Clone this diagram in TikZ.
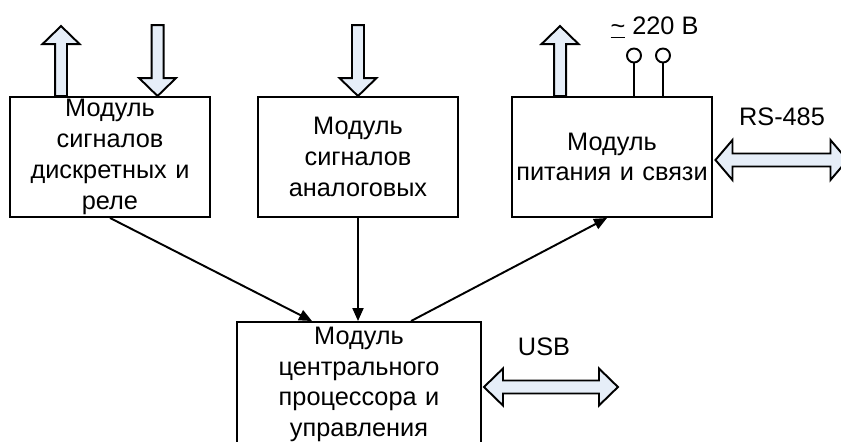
\documentclass[tikz,border=0pt]{standalone}
\usepackage{fontspec}
\setmainfont{Liberation Sans}
\usepackage{xcolor}
\usetikzlibrary{arrows.meta,positioning}
\definecolor{arrowblue}{HTML}{E6EEF8}

\tikzset{
  blockarrow/.style={draw, line width=1.1pt, fill=arrowblue},
  outarrow/.pic={\draw[blockarrow] (-0.12,0) -- (-0.12,1.04) -- (-0.37,1.04) -- (0,1.4) -- (0.37,1.04) -- (0.12,1.04) -- (0.12,0) -- cycle;},
  inarrow/.pic={\draw[blockarrow] (0,0) -- (-0.37,0.36) -- (-0.12,0.36) -- (-0.12,1.42) -- (0.12,1.42) -- (0.12,0.36) -- (0.37,0.36) -- cycle;}
}

\begin{document}
\begin{tikzpicture}[module/.style={draw, line width=1.1pt, minimum width=4cm, minimum height=2.4cm, text width=3.9cm, align=center, inner sep=0pt, font=\fontsize{14.4}{17.5}\selectfont},
  link/.style={line width=1.1pt, -{Triangle[length=0.26cm, width=0.22cm]}},
  terminal/.style={circle, draw, line width=1.1pt, minimum size=0.28cm, inner sep=0pt},
  lbl/.style={font=\fontsize{14.4}{17}\selectfont}]

\useasboundingbox (0,0) rectangle (16.82,8.82);
\clip (0,0) rectangle (16.82,8.82);

\node[module] (discr) at (2.2,5.68) {Модуль\\ сигналов\\ дискретных и\\ реле};
\node[module] (analog) at (7.16,5.68) {Модуль\\ сигналов\\ аналоговых};
\node[module] (power) at (12.24,5.68) {Модуль\\ питания и связи};
\node[module, minimum width=4.88cm, minimum height=2.5cm] (cpu) at (7.18,1.13) {Модуль\\ центрального\\ процессора и\\ управления};

\pic at ([xshift=1.04cm]discr.north west) {outarrow};
\pic at ([xshift=2.97cm]discr.north west) {inarrow};
\pic at (analog.north) {inarrow};
\pic at ([xshift=0.98cm]power.north west) {outarrow};

\node[terminal] (ac1) at (12.68,7.71) {};
\node[terminal] (ac2) at (13.26,7.71) {};
\path[draw] [line width=1.1pt] (ac1) -- (ac1 |- power.north);
\path[draw] [line width=1.1pt] (ac2) -- (ac2 |- power.north);
\node[lbl] (volt) at (13.09,8.27) {\underline{\textasciitilde} 220 В};

\node[lbl] (rs) at (15.64,6.48) {RS-485};
\draw[blockarrow] ([xshift=0.05cm,yshift=-0.06cm]power.east) -- ++(0.34,0.4) -- ++(0,-0.27) -- ++(1.96,0) -- ++(0,0.27) -- ++(0.34,-0.4) -- ++(-0.34,-0.4) -- ++(0,0.27) -- ++(-1.96,0) -- ++(0,-0.27) -- cycle;

\node[lbl] (usb) at (10.88,1.88) {USB};
\draw[blockarrow] ([xshift=0.04cm,yshift=-0.05cm]cpu.east) -- ++(0.38,0.37) -- ++(0,-0.24) -- ++(1.92,0) -- ++(0,0.24) -- ++(0.38,-0.37) -- ++(-0.38,-0.37) -- ++(0,0.24) -- ++(-1.92,0) -- ++(0,-0.24) -- cycle;

\path[draw] [link] (discr.south) -- ([xshift=1.52cm]cpu.north west);
\path[draw] [link] (analog.south) -- (analog.south |- cpu.north);
\path[draw] [link] ([xshift=3.5cm]cpu.north west) -- ([xshift=1.92cm]power.south west);

\end{tikzpicture}
\end{document}
